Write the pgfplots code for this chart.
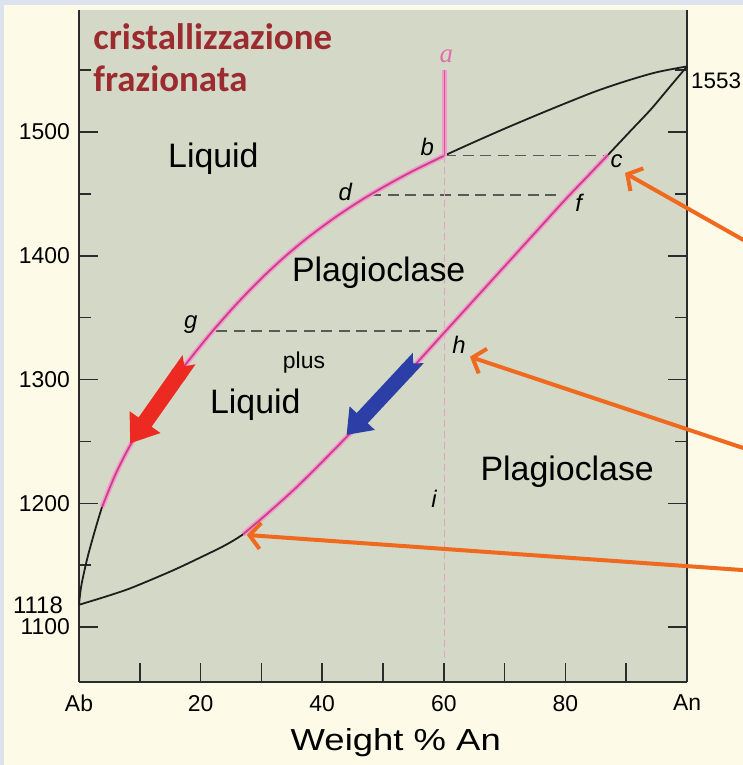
\documentclass[border=0pt]{standalone}
\usepackage{pgfplots}
\pgfplotsset{compat=1.18}
\usepackage{fontspec}
\setmainfont{Liberation Sans}
\newfontfamily\titlefont{Carlito}
\newfontfamily\serifit{Liberation Serif}
\newfontfamily\widefont[FakeStretch=1.2]{Liberation Sans}
\usetikzlibrary{arrows.meta}

\definecolor{edgeblue}{HTML}{DCE3EE}
\definecolor{cream}{HTML}{FDFBE8}
\definecolor{plotbg}{HTML}{D4D8C7}
\definecolor{spine}{HTML}{2B2B2B}
\definecolor{curve}{HTML}{1E1E1E}
\definecolor{pinkouter}{HTML}{F29BC9}
\definecolor{pinkcore}{HTML}{CC3E8E}
\definecolor{pinkdash}{HTML}{E3A3C3}
\definecolor{pinklabel}{HTML}{E26FAA}
\definecolor{redarrow}{HTML}{EC2A22}
\definecolor{bluearrow}{HTML}{2B3FA6}
\definecolor{orangearrow}{HTML}{EF6A1F}
\definecolor{titlered}{HTML}{9C2B2F}
\definecolor{tieline}{HTML}{595959}

% liquidus of the albite--anorthite system (deg C)
\pgfplotstableread{
x T
0 1118
0.4 1134
1.6 1160
3.8 1197
6 1223.4
8.5 1247.5
12 1275.2
15 1296.3
18.5 1318.2
22 1339.3
26 1361.5
30 1381.7
34 1399.9
38 1416.1
42.5 1432.3
47 1446.7
51 1458.1
55 1468.7
60 1480.7
65 1491.9
70 1502.7
75 1513.1
80 1523.2
85 1532.9
90 1541.2
95 1548.3
100 1553
}\liquidus

% liquid composition during cooling (b -> g -> ...)
\pgfplotstableread{
x T
3.8 1197
6 1223.4
8.5 1247.5
12 1275.2
15 1296.3
18.5 1318.2
22 1339.3
26 1361.5
30 1381.7
34 1399.9
38 1416.1
42.5 1432.3
47 1446.7
51 1458.1
55 1468.7
60 1480.7
}\liquiduspath

% solidus
\pgfplotstableread{
x T
0 1118
4 1124
8 1130.5
12 1138.5
16 1147
20 1156.3
24 1166
27 1175
30 1187.5
33 1200.5
36 1214
40 1233.5
44 1253.5
48 1273.8
52 1294.3
56 1315.8
60 1337.5
65 1364.5
70 1391.5
75 1418.5
80 1445.5
83.5 1463.5
87 1481.5
90.5 1499.8
94 1518
97 1535.5
100 1553
}\solidus

% plagioclase composition during cooling (c -> f -> h -> ...)
\pgfplotstableread{
x T
27 1175
30 1187.5
33 1200.5
36 1214
40 1233.5
44 1253.5
48 1273.8
52 1294.3
56 1315.8
60 1337.5
65 1364.5
70 1391.5
75 1418.5
80 1445.5
83.5 1463.5
87 1481.5
}\soliduspath

\begin{document}
\begin{tikzpicture}[x=1bp,y=1bp]
\fill[edgeblue] (0,0) rectangle (743,765);
\fill[cream] (4,0) rectangle (743,760);
\useasboundingbox (0,0) rectangle (743,765);
\begin{axis}[
  at={(79bp,83bp)}, anchor=south west,
  scale only axis, width=608bp, height=672bp,
  xmin=0, xmax=100, ymin=1055.6, ymax=1598.6,
  clip=false,
  axis x line*=bottom, axis y line*=box,
  axis line style={line width=1.5bp, draw=spine},
  axis background/.style={fill=plotbg},
  /pgf/number format/1000 sep={},
  /pgf/number format/assume math mode=true,
  xtick={0,10,...,100},
  xticklabels={Ab,,20,,40,,60,,80,,An},
  ytick={1100,1200,...,1500},
  minor ytick={1150,1250,...,1550},
  major tick length=19bp, minor tick length=12bp,
  tick align=inside,
  every tick/.style={line width=1.5bp, draw=spine},
  xticklabel style={font=\fontsize{23}{26}\selectfont, inner sep=0pt, anchor=north, yshift=-13bp},
  yticklabel style={font=\fontsize{23}{26}\selectfont, inner sep=0pt, anchor=east, xshift=-9bp},
  xlabel={Weight \% An},
  xlabel style={at={(axis description cs:0.521,-0.1012)}, anchor=base, inner sep=0pt,
    font=\widefont\fontsize{30.5}{34}\selectfont},
]
% phase boundaries
\addplot[curve, line width=1.8bp, smooth] table[x=x,y=T] {\liquidus};
\addplot[curve, line width=1.8bp, smooth] table[x=x,y=T] {\solidus};

% tie lines
\addplot[tieline, line width=1.6bp, dash pattern=on 11bp off 6.5bp] coordinates {(60.2,1481) (86.8,1481)};
\addplot[tieline, line width=1.6bp, dash pattern=on 11bp off 6.5bp] coordinates {(47.9,1449) (79.4,1449)};
\addplot[tieline, line width=1.6bp, dash pattern=on 11bp off 6.5bp] coordinates {(22.6,1339) (59.9,1339)};

% bulk composition (60 % An)
\addplot[pinkdash, line width=1.8bp, dash pattern=on 7bp off 4bp] coordinates {(60.1,1481) (60.1,1075)};
\addplot[pinkouter, line width=4.5bp] coordinates {(60.1,1481) (60.1,1550)};
\addplot[pinkcore!70!pinkouter, line width=1.2bp] coordinates {(60.1,1481) (60.1,1550)};

% crystallisation paths of liquid and plagioclase
\addplot[pinkouter, line width=5bp, smooth] table[x=x,y=T] {\liquiduspath};
\addplot[pinkcore, line width=1.8bp, smooth] table[x=x,y=T] {\liquiduspath};
\addplot[pinkouter, line width=5bp, smooth] table[x=x,y=T] {\soliduspath};
\addplot[pinkcore, line width=1.8bp, smooth] table[x=x,y=T] {\soliduspath};

% direction of cooling
\draw[redarrow, line width=16bp, {Triangle Cap[reversed]}-{Triangle[length=26bp,width=36bp]}]
  (axis cs:18.1,1316) -- (axis cs:8.4,1248.4);
\draw[bluearrow, line width=15bp, {Triangle Cap[reversed]}-{Triangle[length=23bp,width=33bp]}]
  (axis cs:55.8,1317.4) -- (axis cs:44.0,1255.2);

% region labels
\node[font=\fontsize{34}{38}\selectfont, anchor=base] at (axis cs:22.1,1471.7) {Liquid};
\node[font=\fontsize{34}{38}\selectfont, anchor=base] at (axis cs:49.3,1379) {Plagioclase};
\node[font=\fontsize{23}{26}\selectfont, anchor=base] at (axis cs:37.0,1309.3) {plus};
\node[font=\fontsize{34}{38}\selectfont, anchor=base] at (axis cs:29.0,1272.7) {Liquid};
\node[font=\fontsize{34}{38}\selectfont, anchor=base] at (axis cs:80.3,1218.8) {Plagioclase};

% point labels
\node[font=\itshape\fontsize{24}{28}\selectfont, anchor=base] at (axis cs:57.3,1481.4) {b};
\node[font=\itshape\fontsize{24}{28}\selectfont, anchor=base] at (axis cs:88.4,1471.7) {c};
\node[font=\itshape\fontsize{24}{28}\selectfont, anchor=base] at (axis cs:43.8,1445) {d};
\node[font=\itshape\fontsize{24}{28}\selectfont, anchor=base] at (axis cs:82.2,1435.4) {f};
\node[font=\itshape\fontsize{24}{28}\selectfont, anchor=base] at (axis cs:18.4,1341.6) {g};
\node[font=\itshape\fontsize{24}{28}\selectfont, anchor=base] at (axis cs:62.5,1321.4) {h};
\node[font=\itshape\fontsize{24}{28}\selectfont, anchor=base] at (axis cs:58.4,1196.2) {i};
\node[font=\serifit\itshape\fontsize{27}{30}\selectfont, text=pinklabel, anchor=base] at (axis cs:60.4,1555.8) {a};

% melting points
\node[font=\fontsize{22.5}{26}\selectfont, anchor=west, inner sep=0pt] at (axis cs:100.66,1541.6) {1553};
\node[font=\fontsize{24}{26}\selectfont, anchor=east, inner sep=0pt] at (axis cs:-2.63,1117.5) {1118};

% title
\node[font=\titlefont\bfseries\fontsize{37}{40}\selectfont, text=titlered, anchor=base west, inner sep=0pt]
  at (axis cs:2.35,1566.3) {cristallizzazione};
\node[font=\titlefont\bfseries\fontsize{37}{40}\selectfont, text=titlered, anchor=base west, inner sep=0pt]
  at (axis cs:2.35,1532.6) {frazionata};

% pointers
\draw[orangearrow, line width=4bp, -{Straight Barb[length=11bp,width=26bp]}]
  (axis cs:109.3,1412.7) -- (axis cs:89.8,1466.9);
\draw[orangearrow, line width=4bp, -{Straight Barb[length=11bp,width=26bp]}]
  (axis cs:109.3,1244.6) -- (axis cs:64.3,1318.4);
\draw[orangearrow, line width=4bp, -{Straight Barb[length=11bp,width=26bp]}]
  (axis cs:109.3,1146) -- (axis cs:27.6,1174.4);
\end{axis}
\end{tikzpicture}
\end{document}
